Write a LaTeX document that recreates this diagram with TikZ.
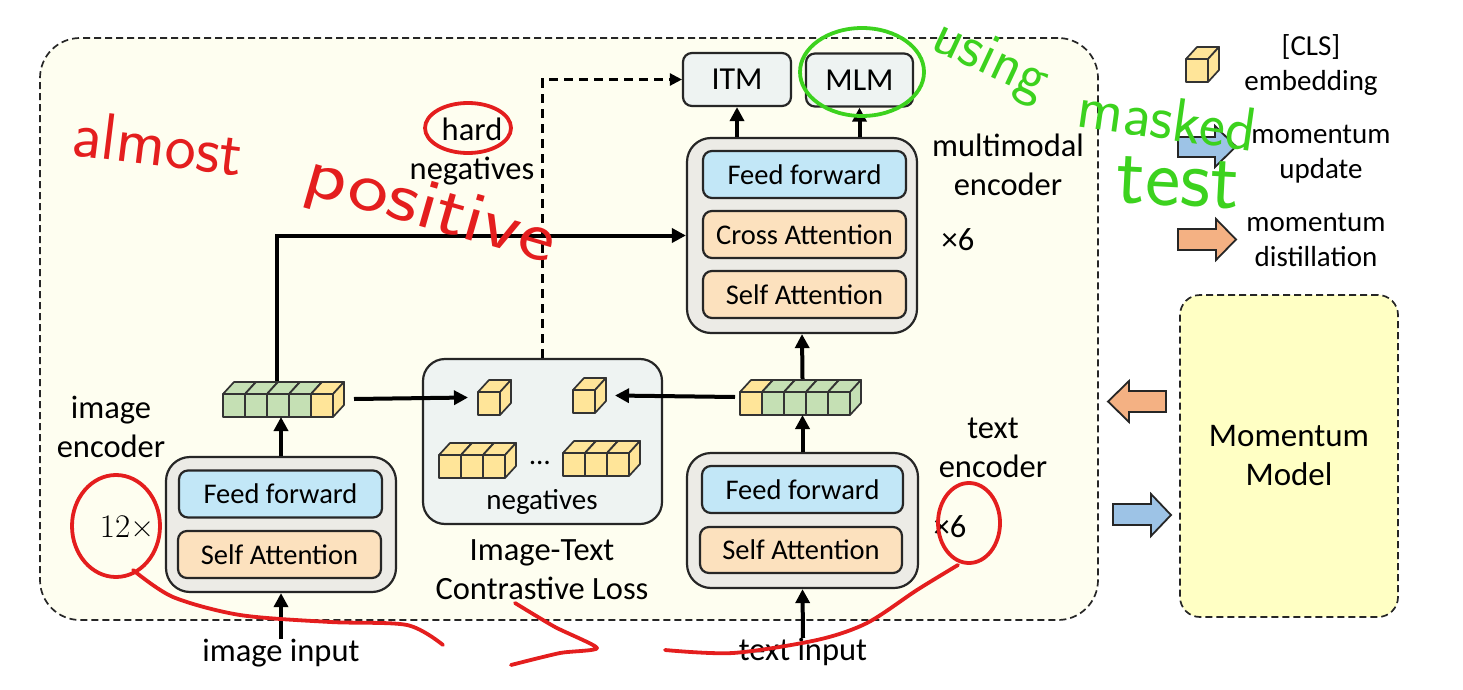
\documentclass[tikz,border=0pt]{standalone}
\usepackage{fontspec}
\setmainfont{Carlito}
\newfontfamily\lmserif{Latin Modern Roman}
\usetikzlibrary{arrows.meta}
\definecolor{outerbg}{HTML}{FEFEF0}
\definecolor{mombg}{HTML}{FFFFC4}
\definecolor{encgray}{HTML}{ECEBE6}
\definecolor{ffblue}{HTML}{C2E7F7}
\definecolor{attpeach}{HTML}{FCE1BE}
\definecolor{headgray}{HTML}{EEF3F2}
\definecolor{cubegreen}{HTML}{C5E0B4}
\definecolor{cubeyellow}{HTML}{FFE599}
\definecolor{arrblue}{HTML}{9DC3E6}
\definecolor{arrorange}{HTML}{F4B183}
\definecolor{hwred}{HTML}{E41E1E}
\definecolor{hwgreen}{HTML}{3CD21E}
\newcommand\cubeat[3]{%
  \filldraw[cubestyle, fill=#3] (#1,#2) rectangle ++(22,23);
  \filldraw[cubestyle, fill=#3] (#1,#2) -- ++(11,-12) -- ++(22,0) -- ++(-11,12) -- cycle;
  \filldraw[cubestyle, fill=#3] (#1+22,#2) -- ++(11,-12) -- ++(0,23) -- ++(-11,12) -- cycle;
}
\begin{document}
\begin{tikzpicture}[x=1pt,y=-1pt,
  box/.style={draw=black!85, line width=2.2pt},
  encbox/.style={box, fill=encgray, rounded corners=24pt, inner sep=0pt},
  layer/.style={box, rounded corners=9pt, minimum width=203pt, minimum height=47pt, inner sep=0pt, font=\fontsize{28.5}{30}\selectfont},
  ffbox/.style={layer, fill=ffblue},
  attbox/.style={layer, fill=attpeach},
  headbox/.style={box, fill=headgray, rounded corners=9pt, minimum height=53pt, inner sep=0pt, font=\fontsize{32}{34}\selectfont},
  lbl/.style={font=\fontsize{32.5}{39}\selectfont, align=center, inner sep=0pt},
  smalllbl/.style={font=\fontsize{29}{35}\selectfont, align=center, inner sep=0pt},
  arr/.style={line width=4pt, -{Triangle[length=14pt,width=14pt]}},
  dasharr/.style={line width=2.4pt, dash pattern=on 9pt off 6pt, -{Triangle[length=12pt,width=12pt]}},
  cubestyle/.style={draw=black!80, line width=1.7pt, line join=round},
  hidden/.style={inner sep=0pt, outer sep=0pt, draw=none},
  blockarr/.style={draw=black!85, line width=1.8pt, line join=miter},
  hwr/.style={draw=hwred, line width=3.8pt, line cap=round, line join=round},
  hwg/.style={draw=hwgreen, line width=3.8pt, line cap=round, line join=round},
  hwtext/.style={inner sep=0pt, font=\sffamily}
]
\useasboundingbox (0,0) rectangle (1463,690);

% outer dashed region
\node[hidden, draw=black!85, line width=1.7pt, dash pattern=on 7pt off 4pt, fill=outerbg,
  rounded corners=40pt, minimum width=1058pt, minimum height=582pt] (outer) at (569,329) {};

% momentum model
\node[draw=black!85, line width=1.7pt, dash pattern=on 7pt off 4pt, fill=mombg,
  rounded corners=20pt, minimum width=218pt, minimum height=322pt, inner sep=0pt,
  font=\fontsize{33}{39}\selectfont, align=center] (mom) at (1289,456) {Momentum\\Model};

% image encoder
\node[encbox, minimum width=230pt, minimum height=135pt] (imgenc) at (281,524.5) {};
\node[ffbox] (imgff) at (280.5,494) {Feed forward};
\node[attbox] (imgsa) at (279.5,554.5) {Self Attention};

% text encoder
\node[encbox, minimum width=231pt, minimum height=135pt] (txtenc) at (802.5,520.5) {};
\node[ffbox, minimum width=201pt] (txtff) at (802.5,489.5) {Feed forward};
\node[attbox, minimum width=202pt, minimum height=46pt] (txtsa) at (801,550) {Self Attention};

% multimodal encoder
\node[encbox, minimum width=230pt, minimum height=195pt] (mmenc) at (802,235.5) {};
\node[ffbox] (mmff) at (804.5,174.5) {Feed forward};
\node[attbox] (mmca) at (804.5,234.5) {Cross Attention};
\node[attbox] (mmsa) at (804.5,294.5) {Self Attention};

% heads
\node[headbox, minimum width=108pt] (itm) at (737,79.5) {ITM};
\node[headbox, minimum width=107pt] (mlm) at (859.5,80) {MLM};

% ITC box
\node[box, fill=headgray, rounded corners=22pt, minimum width=239pt, minimum height=165pt, inner sep=0pt] (itc) at (542.5,441.5) {};

% cubes: image features
\cubeat{223}{394}{cubegreen}
\cubeat{245}{394}{cubegreen}
\cubeat{267}{394}{cubegreen}
\cubeat{289}{394}{cubegreen}
\cubeat{311}{394}{cubeyellow}
\node[hidden, minimum width=121pt, minimum height=36pt] (imgfeat) at (283.5,399) {};
\coordinate (imgtop) at (277,381);
% text features
\cubeat{740}{392}{cubeyellow}
\cubeat{762}{392}{cubegreen}
\cubeat{784}{392}{cubegreen}
\cubeat{806}{392}{cubegreen}
\cubeat{828}{392}{cubegreen}
\node[hidden, minimum width=122pt, minimum height=36pt] (txtfeat) at (801,397) {};
% ITC cubes
\cubeat{478}{392}{cubeyellow}
\node[hidden, minimum width=34pt, minimum height=35pt] (itcimg) at (495,397.5) {};
\cubeat{573}{390}{cubeyellow}
\node[hidden, minimum width=34pt, minimum height=35pt] (itctxt) at (590,395.5) {};
\cubeat{439}{455}{cubeyellow}
\cubeat{461}{455}{cubeyellow}
\cubeat{483}{455}{cubeyellow}
\cubeat{563}{453}{cubeyellow}
\cubeat{585}{453}{cubeyellow}
\cubeat{607}{453}{cubeyellow}
\node[smalllbl, anchor=base] (dots) at (540,464) {\dots};
\node[smalllbl] (neg) at (542,502) {negatives};

% labels
\node[lbl] (imglbl) at (111,427) {image\\encoder};
\node[lbl] (txtlbl) at (993,448) {text\\encoder};
\node[lbl] (mmlbl) at (1008,165) {multimodal\\encoder};
\node[lbl] (hardlbl) at (472,152) {hard\\negatives};
\node[lbl] (itclbl) at (542,570) {Image-Text\\Contrastive Loss};
\node[lbl] (imgin) at (281,653) {image input};
\node[lbl] (txtin) at (803,652) {text input};
\node[lbl, font=\lmserif\fontsize{33}{34}\selectfont] (n12) at (127,527) {12×};
\node[lbl] (mm6) at (958,240) {×6};
\node[lbl] (txt6) at (950,527) {×6};

% connectors
\draw[arr] (imgin.north) -- (imgenc.south);
\draw[arr] (imgenc.north) -- (imgenc.north |- imgfeat.south);
\draw[arr] (imgtop) |- (mmenc.west);
\draw[arr] ([xshift=10pt]imgfeat.east) -- ([xshift=-10pt]itcimg.west);
\draw[arr] ([xshift=-5pt]txtfeat.west) -- ([xshift=8pt]itctxt.east);
\draw[arr] (txtin.north) -- (txtenc.south);
\draw[arr] (txtenc.north) -- (txtenc.north |- txtfeat.south);
\draw[arr] (txtenc.north |- txtfeat.north) -- (mmenc.south);
\draw[arr] (itm.south |- mmenc.north) -- (itm.south);
\draw[arr] (mlm.south |- mmenc.north) -- (mlm.south);
\draw[dasharr] (itc.north) |- (itm.west);

% legend
\cubeat{1186}{59}{cubeyellow}
\node[hidden, minimum width=34pt, minimum height=35pt] (legcube) at (1203,64.5) {};
\node[smalllbl] (clslbl) at (1311,65) {[CLS]\\embedding};
\filldraw[blockarr, fill=arrblue] (1178,137) -- (1215,137) -- (1215,126) -- (1236,146.5) -- (1215,167) -- (1215,157) -- (1178,157) -- cycle;
\node[smalllbl] (updlbl) at (1321,154) {momentum\\update};
\filldraw[blockarr, fill=arrorange] (1178,229) -- (1216,229) -- (1216,219) -- (1236,239.5) -- (1216,260) -- (1216,250) -- (1178,250) -- cycle;
\node[smalllbl] (distlbl) at (1316,239.5) {momentum\\distillation};

% momentum arrows
\filldraw[blockarr, fill=arrorange] (1166,391) -- (1129,391) -- (1129,381) -- (1108,401.5) -- (1129,422) -- (1129,412) -- (1166,412) -- cycle;
\filldraw[blockarr, fill=arrblue] (1113,504) -- (1151,504) -- (1151,494) -- (1171,515) -- (1151,536) -- (1151,525) -- (1113,525) -- cycle;

% handwritten annotations
\node[hwtext, text=hwred, font=\sffamily\fontsize{66}{66}\selectfont, rotate=-7] (hw1) at (158,143) {almost};
\node[hwtext, text=hwred, font=\sffamily\fontsize{72}{72}\selectfont, rotate=-16, xscale=1.2] (hw2) at (430,212) {positive};
\node[hwtext, text=hwgreen, font=\sffamily\fontsize{60}{60}\selectfont, rotate=-25] (hw3) at (990,62) {using};
\node[hwtext, text=hwgreen, font=\sffamily\fontsize{62}{62}\selectfont, rotate=-8] (hw4) at (1167,118) {masked};
\node[hwtext, text=hwgreen, font=\sffamily\fontsize{84}{84}\selectfont, rotate=-3] (hw5) at (1178,183) {test};

\draw[hwr] (468,128) ellipse [x radius=43pt, y radius=25pt];
\draw[hwg] (862,72) ellipse [x radius=62pt, y radius=44pt];
\draw[hwr] (116,526) ellipse [x radius=44pt, y radius=51pt];
\draw[hwr] (969,523) ellipse [x radius=31pt, y radius=40pt];
\draw[hwr] plot[smooth] coordinates {(133,570) (173,597) (240,615) (330,622) (407,625) (443,645)};
\draw[hwr] plot[smooth, tension=0.4] coordinates {(515,603) (555,627) (597,648) (560,653) (511,665)};
\draw[hwr] plot[smooth] coordinates {(665,650) (733,653) (817,640) (867,623) (917,590) (958,565)};
\end{tikzpicture}
\end{document}
